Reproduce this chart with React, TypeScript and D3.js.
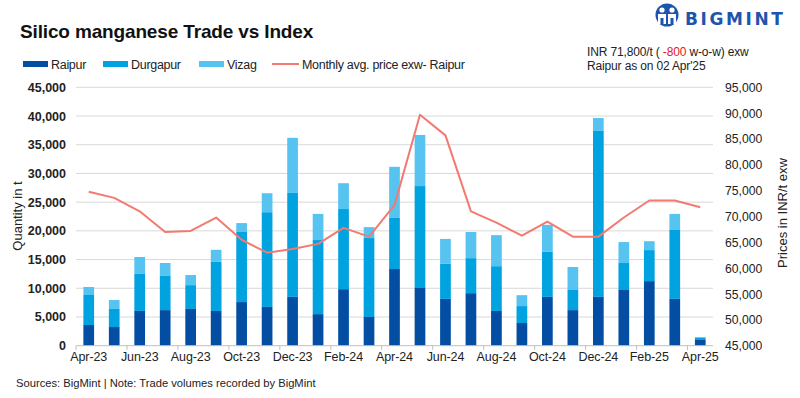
import React from 'react'
import * as d3 from 'd3'

const months = ['Apr-23','May-23','Jun-23','Jul-23','Aug-23','Sep-23','Oct-23','Nov-23','Dec-23','Jan-24','Feb-24','Mar-24','Apr-24','May-24','Jun-24','Jul-24','Aug-24','Sep-24','Oct-24','Nov-24','Dec-24','Jan-25','Feb-25','Mar-25','Apr-25']
const raipur = [3600,3250,6050,6200,6400,6050,7600,6750,8500,5500,9850,5000,13350,10050,8150,9150,6050,3950,8500,6200,8500,9700,11250,8150,1000]
const durgapur = [5230,3150,6450,5950,4150,8550,12200,16500,18100,12900,13950,13750,8900,17750,6100,6100,7800,2950,7850,3500,28900,4700,5400,12000,350]
const vizag = [1400,1550,2950,2250,1750,2100,1550,3300,9600,4550,4500,1900,8900,8900,4350,4550,5400,1900,4700,4000,2250,3650,1550,2800,150]
const price = [74800,73600,71000,67000,67200,69800,65500,63000,63700,64700,67800,66100,72200,89700,85700,71000,68800,66300,69000,66100,66100,69800,73100,73100,71800]
const leftTicks = [0,5000,10000,15000,20000,25000,30000,35000,40000,45000]
const rightTicks = [45000,50000,55000,60000,65000,70000,75000,80000,85000,90000,95000]

const seriesNames = ['Raipur', 'Durgapur', 'Vizag']
const colors = ['#034ea2', '#00a2e0', '#56c3f1']
const lineColor = '#f27a70'
const font = '"Liberation Sans", Arial, sans-serif'

export default function App() {
  const x = d3.scaleBand<string>().domain(months).range([76, 713]).paddingInner(0.58).paddingOuter(0.29)
  const yL = d3.scaleLinear().domain([0, 45000]).range([345.7, 87.3])
  const yR = d3.scaleLinear().domain([45000, 95000]).range([345.7, 87.3])
  const fmt = d3.format(',')

  const rows = months.map((m, i) => ({ m, Raipur: raipur[i], Durgapur: durgapur[i], Vizag: vizag[i] }))
  const stacked = d3.stack<any>().keys(seriesNames)(rows)

  const line = d3.line<number>()
    .x((_, i) => x(months[i])! + x.bandwidth() / 2)
    .y(d => yR(d))

  const step = x.step()
  const x0 = 76

  return (
    <svg width={800} height={398} style={{ position: 'absolute', left: 0, top: 0, fontFamily: font }}>
      <rect width={800} height={398} fill="#fff" />
      {/* title */}
      <text x={20} y={38} fontSize={19} fontWeight="bold" fill="#111" letterSpacing={-0.15}>Silico manganese Trade vs Index</text>

      {/* logo */}
      <g fill="#1e55ac">
        <circle cx={667} cy={15} r={11.5} />
        <circle cx={662} cy={10} r={2.6} fill="#fff" />
        <circle cx={672} cy={10} r={2.6} fill="#fff" />
        <path d="M658,14 h8 v10 h-2.5 v-6 h-3 v6 h-2.5 z" fill="#fff" />
        <path d="M668,14 h8 v10 h-2.5 v-6 h-3 v6 h-2.5 z" fill="#fff" />
        <text x={685} y={25} fontSize={17} fontWeight="bold" letterSpacing={2.6} fontFamily='"DejaVu Sans", sans-serif'>BIGMINT</text>
      </g>

      {/* legend */}
      {seriesNames.map((s, i) => {
        const lx = [23, 103, 199][i]
        return (
          <g key={s}>
            <rect x={lx} y={61} width={25} height={6} fill={colors[i]} />
            <text x={lx + 28} y={69} fontSize={12.5} letterSpacing={-0.3} fill="#222">{s}</text>
          </g>
        )
      })}
      <line x1={272} x2={299} y1={64} y2={64} stroke={lineColor} strokeWidth={2} />
      <text x={302} y={69} fontSize={12.5} letterSpacing={-0.3} fill="#222">Monthly avg. price exw- Raipur</text>

      {/* annotation */}
      <text x={587} y={56} fontSize={12} letterSpacing={-0.15} fill="#222">INR 71,800/t ( <tspan fill="#e8141b">-800</tspan> w-o-w) exw</text>
      <text x={587} y={70} fontSize={12} letterSpacing={-0.15} fill="#222">Raipur as on 02 Apr'25</text>

      {/* grid */}
      {leftTicks.slice(1).map(t => (
        <line key={t} x1={76} x2={713} y1={yL(t)} y2={yL(t)} stroke="#d9d9d9" strokeWidth={1} />
      ))}

      {/* bars */}
      {stacked.map((layer, si) => (
        <g key={layer.key} fill={colors[si]}>
          {layer.map((d, i) => (
            <rect key={i} x={x(months[i])} width={x.bandwidth()} y={yL(d[1])} height={yL(d[0]) - yL(d[1])} />
          ))}
        </g>
      ))}

      {/* x axis */}
      <line x1={76} x2={713} y1={345.7} y2={345.7} stroke="#bfbfbf" strokeWidth={1} />
      {months.map((m, i) => i % 2 === 0 ? (
        <g key={m}>
          <line x1={x0 + i * step} x2={x0 + i * step} y1={345.7} y2={350} stroke="#bfbfbf" />
          <text x={x(m)! + x.bandwidth() / 2} y={361} fontSize={12.5} letterSpacing={-0.1} textAnchor="middle" fill="#222">{m}</text>
        </g>
      ) : null)}

      {/* line */}
      <path d={line(price)!} fill="none" stroke={lineColor} strokeWidth={2} strokeLinejoin="round" />

      {/* left axis */}
      {leftTicks.map(t => (
        <text key={t} x={66} y={yL(t) + 4.5} fontSize={12.5} fontWeight="bold" textAnchor="end" fill="#222">{fmt(t)}</text>
      ))}
      <text transform={`translate(22,${216}) rotate(-90)`} fontSize={13} textAnchor="middle" fill="#222">Quantity in t</text>

      {/* right axis */}
      {rightTicks.map(t => (
        <text key={t} x={725} y={yR(t) + 4.5} fontSize={12.2} textAnchor="start" fill="#222">{fmt(t)}</text>
      ))}
      <text transform={`translate(787,${213}) rotate(-90)`} fontSize={13} textAnchor="middle" fill="#222">Prices in INR/t exw</text>

      {/* footer */}
      <text x={16} y={387} fontSize={11.2} fill="#222">Sources: BigMint | Note: Trade volumes recorded by BigMint</text>
    </svg>
  )
}
